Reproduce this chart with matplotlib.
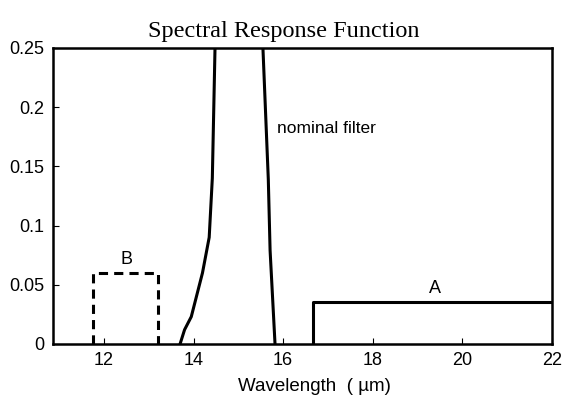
import matplotlib
matplotlib.use("Agg")
import matplotlib.pyplot as plt

# nominal filter response
filterWl = [13.70, 13.80, 13.95, 14.20, 14.35, 14.42, 14.48, 14.50,
            15.53, 15.55, 15.67, 15.71, 15.82]
filterResp = [0.0, 0.012, 0.023, 0.060, 0.090, 0.140, 0.250, 0.27,
              0.27, 0.250, 0.139, 0.079, 0.0]

# band B (dashed box)
bandBWl = [11.75, 11.75, 13.2, 13.2]
bandBResp = [0.0, 0.06, 0.06, 0.0]

# band A
bandAWl = [16.67, 16.67, 22.0]
bandAResp = [0.0, 0.035, 0.035]

xTicks = [12, 14, 16, 18, 20, 22]
yTicks = [0, 0.05, 0.1, 0.15, 0.2, 0.25]
yTickLabels = ["0", "0.05", "0.1", "0.15", "0.2", "0.25"]

plt.rcParams['font.family'] = ['Liberation Sans', 'DejaVu Sans']

fig = plt.figure(figsize=(5.63, 3.99), dpi=100)
ax = fig.add_axes([0.094, 0.138, 0.886, 0.742])

ax.plot(filterWl, filterResp, 'k-', linewidth=2.2)
ax.plot(bandBWl, bandBResp, 'k--', linewidth=2.2, dashes=(3, 2))
ax.plot(bandAWl, bandAResp, 'k-', linewidth=2.2)

ax.text(12.5, 0.0645, "B", fontsize=13, ha='center', va='bottom')
ax.text(19.4, 0.0395, "A", fontsize=13, ha='center', va='bottom')
ax.text(15.86, 0.182, "nominal filter", fontsize=12.5, ha='left', va='center')

ax.set_xlim(10.86, 22)
ax.set_ylim(0, 0.25)
ax.set_xticks(xTicks)
ax.set_yticks(yTicks)
ax.set_yticklabels(yTickLabels)
ax.tick_params(direction='in', length=4, labelsize=13, width=0.8, pad=6)
for spine in ax.spines.values():
    spine.set_linewidth(1.8)

ax.set_xlabel("Wavelength  ( \u00b5m)", fontsize=13.5)
ax.xaxis.set_label_coords(0.525, -0.115)
fig.text(0.504, 0.907, "Spectral Response Function", fontsize=17.5,
         family=['Liberation Serif', 'DejaVu Serif'], ha='center', va='baseline')

fig.savefig("out.png", dpi=100)
